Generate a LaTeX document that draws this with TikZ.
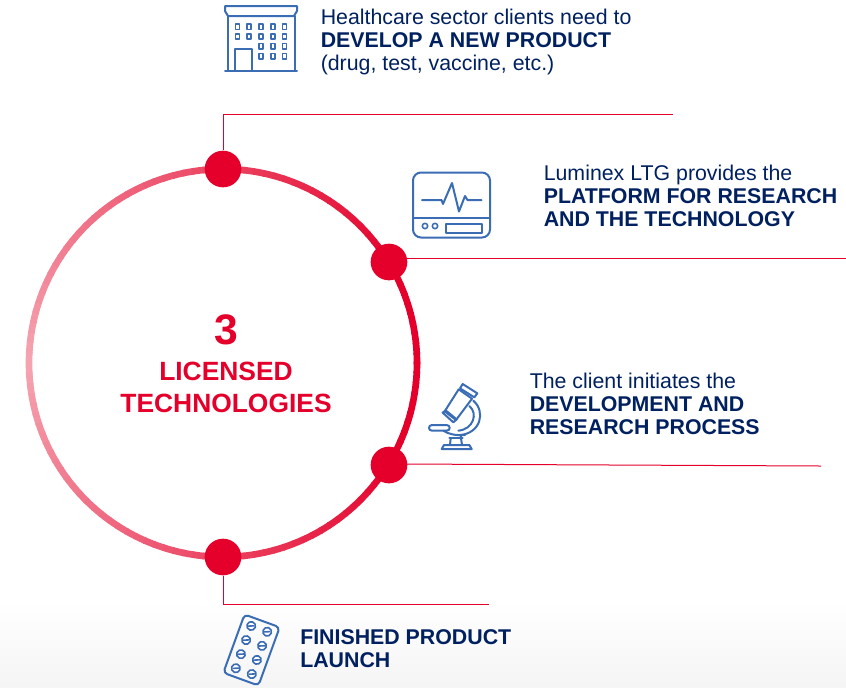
\documentclass[tikz,border=0pt]{standalone}
\usepackage{fontspec}
\setmainfont{Liberation Sans}
\definecolor{ringred}{HTML}{E4002B}
\definecolor{ringpale}{HTML}{F5A3B0}
\definecolor{navy}{HTML}{002060}
\definecolor{iconblue}{HTML}{3B6DB5}
\tikzset{
    dot/.style={circle, fill=ringred, minimum size=27.5pt, inner sep=0pt},
    leader/.style={draw=ringred, line width=0.75pt},
    caption/.style={align=left, anchor=north west, inner sep=0pt, text=navy, font=\fontsize{16}{17.25}\selectfont},
    headline/.style={align=center, text=ringred, inner sep=0pt, font=\bfseries\fontsize{19.8}{24}\selectfont},
    iconline/.style={draw=iconblue, line width=1.5pt, line join=round, line cap=round},
    iconthin/.style={draw=iconblue, line width=1.2pt, line join=round},
}
\begin{document}
\begin{tikzpicture}[x=0.75pt, y=-0.75pt]
    \useasboundingbox (0, 0) rectangle (846, 687);
    % floor behind the last row
    \shade[top color=white, bottom color=black!4, draw=none] (0, 600) rectangle (846, 687);

    % ring
    \foreach \a in {0, 3, ..., 177} {
        \pgfmathsetmacro{\mixval}{max(0, 100 - \a/1.5)}
        \colorlet{segcolor}{ringpale!\mixval!ringred}
        \draw[segcolor, line width=5pt] ({223 + 194*cos(180 - \a)}, {363 - 194*sin(180 - \a)}) arc[start angle=180 - \a, end angle=180 - \a - 3.4, x radius=194, y radius=-194];
        \draw[segcolor, line width=5pt] ({223 + 194*cos(180 + \a)}, {363 - 194*sin(180 + \a)}) arc[start angle=180 + \a, end angle=180 + \a + 3.4, x radius=194, y radius=-194];
    }

    \node[dot] (top) at (223, 169) {};
    \node[dot] (platform) at (389, 262) {};
    \node[dot] (process) at (389, 465) {};
    \node[dot] (launch) at (223, 557) {};

    \coordinate (topend) at (673, 114);
    \coordinate (platformend) at (846, 258);
    \coordinate (processend) at (821, 466);
    \coordinate (launchend) at (489, 604);

    \draw[leader] (top) -- (223, 114) -- (topend);
    \draw[leader] (platform.north east |- platformend) -- (platformend);
    \draw[leader] (process.north east |- 0, 464) -- (processend);
    \draw[leader] (launch) -- (223, 604) -- (launchend);

    \node[headline, font=\bfseries\fontsize{32}{32}\selectfont] (three) at (226, 330) {3};
    \node[headline] (licensed) at (226, 387) {LICENSED\\TECHNOLOGIES};

    \node[caption] (client) at (320.5, 9) {Healthcare sector clients need to\\\textbf{DEVELOP A NEW PRODUCT}\\(drug, test, vaccine, etc.)};
    \node[caption] (luminex) at (543.5, 165) {Luminex LTG provides the\\\textbf{PLATFORM FOR RESEARCH}\\\textbf{AND THE TECHNOLOGY}};
    \node[caption] (initiates) at (529.5, 373) {The client initiates the\\\textbf{DEVELOPMENT AND}\\\textbf{RESEARCH PROCESS}};
    \node[caption] (finished) at (300, 629) {\textbf{FINISHED PRODUCT}\\\textbf{LAUNCH}};

    % building
    \draw[iconline] (225, 6) -- (297, 6) -- (297, 11) -- (294, 16) -- (228, 16) -- (225, 11) -- cycle;
    \draw[iconline] (227.5, 16) -- (227.5, 70);
    \draw[iconline] (294.5, 16) -- (294.5, 70);
    \draw[iconline] (225, 70.5) -- (297, 70.5);
    \draw[iconline] (235, 70) -- (235, 49) -- (251.5, 49) -- (251.5, 70);
    \foreach \col/\row in {0/0,1/0,2/0,3/0,4/0,0/1,1/1,2/1,3/1,4/1,2/2,3/2,4/2,2/3,3/3,4/3} {
        \draw[iconthin] ({235.3 + 11.8*\col}, {24 + 9.8*\row}) rectangle ++(4, 5.4);
    }

    % monitor
    \draw[iconline, rounded corners=6pt] (413, 172.5) rectangle (490, 237.5);
    \draw[iconthin] (413, 218) -- (490, 218);
    \draw[iconline] (422, 200) -- (441.5, 200) -- (443, 204) -- (452, 183) -- (459, 211.5) -- (465, 196) -- (467.5, 200) -- (481.5, 200);
    \draw[iconthin] (425, 226) circle (2.7);
    \draw[iconthin] (435, 226) circle (2.7);
    \draw[iconline] (446, 224) rectangle (481.5, 233.3);

    % microscope
    \begin{scope}[shift={(410, 370)}, x=0.25pt, y=-0.25pt]
        \draw[iconline] (158, 42) -- (202, 70) -- (193, 82) -- (150, 55) -- cycle;
        \draw[iconline] (146, 58) -- (186, 86) -- (138, 150) -- (104, 124) -- cycle;
        \draw[iconline] (98, 128) -- (107, 121) -- (140, 148) -- (130, 157) -- cycle;
        \draw[iconline] (190, 92) .. controls (228, 125) and (212, 190) .. (150, 195);
        \draw[iconline] (178, 108) .. controls (205, 130) and (190, 178) .. (145, 182);
        \draw[iconline] (66, 165) -- (110, 165) .. controls (122, 165) and (122, 182) .. (110, 182) -- (66, 182) .. controls (54, 182) and (54, 165) .. (66, 165);
        \draw[iconline] (100, 182) .. controls (115, 192) and (135, 197) .. (165, 195);
        \draw[iconline] (118, 205) -- (158, 205);
        \draw[iconline] (122, 205) -- (120, 225);
        \draw[iconline] (152, 197) -- (156, 225);
        \draw[iconline] (95, 237) -- (102, 225) -- (178, 225) -- (185, 237) -- cycle;
    \end{scope}

    % blister pack
    \begin{scope}[shift={(251.5, 650)}, rotate=-20]
        \draw[iconline, rounded corners=3] (-18.7, -31) rectangle (18.7, 31);
        \foreach \px in {-8.5, 8.5} {
            \foreach \py in {-22.5, -7.5, 7.5, 22.5} {
                \draw[iconthin, fill=white] (\px, \py) circle (4.3);
                \draw[iconthin] (\px - 2.8, \py + 1.2) -- (\px + 2.8, \py - 1.2);
            }
        }
    \end{scope}
\end{tikzpicture}
\end{document}
